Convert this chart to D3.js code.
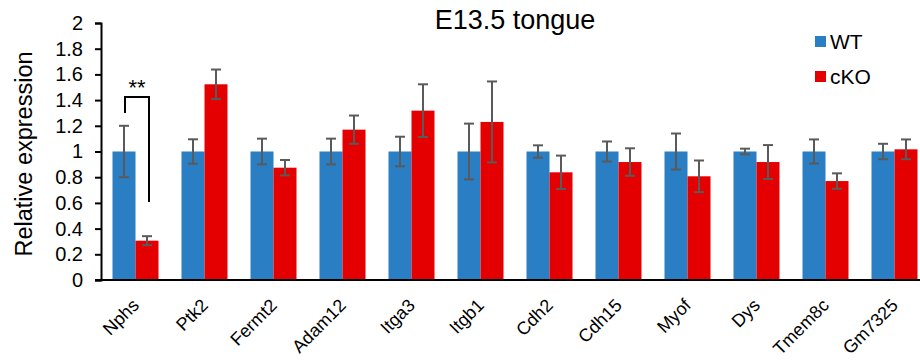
<!DOCTYPE html>
<html>
<head>
<meta charset="utf-8">
<script src="https://cdn.jsdelivr.net/npm/d3@7"></script>
<style>
  body { margin: 0; background: #fff; }
  svg { display: block; font-family: Arial, "Liberation Sans", sans-serif; }
</style>
</head>
<body>
<svg id="chart" width="920" height="362"></svg>
<script>
const genes = ["Nphs", "Ptk2", "Fermt2", "Adam12", "Itga3", "Itgb1", "Cdh2", "Cdh15", "Myof", "Dys", "Tmem8c", "Gm7325"];
const series = ["WT", "cKO"];
const wtMean = [1, 1, 1, 1, 1, 1, 1, 1, 1, 1, 1, 1];
const wtErr = [0.2, 0.095, 0.10, 0.10, 0.115, 0.217, 0.048, 0.078, 0.14, 0.022, 0.094, 0.06];
const koMean = [0.306, 1.523, 0.874, 1.17, 1.318, 1.23, 0.838, 0.918, 0.807, 0.918, 0.77, 1.017];
const koErr = [0.035, 0.115, 0.06, 0.11, 0.205, 0.315, 0.13, 0.107, 0.123, 0.132, 0.06, 0.077];
const yTicks = [0, 0.2, 0.4, 0.6, 0.8, 1, 1.2, 1.4, 1.6, 1.8, 2];
// significance bracket: left leg bottom, top, right leg bottom (in data units)
const bracket = { gene: "Nphs", left: 1.30, top: 1.425, right: 0.607, label: "**" };

const colors = { WT: "#2a7ec3", cKO: "#e40000" };

const svg = d3.select("#chart");
const plotLeft = 101, plotBottom = 280, plotTop = 23;

const y = d3.scaleLinear().domain([0, 2]).range([plotBottom, plotTop]);
const x = d3.scaleBand().domain(genes).range([plotLeft, plotLeft + 12 * 69]).paddingInner(1 / 3).paddingOuter(1 / 6);
const xs = d3.scaleBand().domain(series).range([0, x.bandwidth()]);

const rows = [];
genes.forEach((g, i) => {
  rows.push({ gene: g, s: "WT", v: wtMean[i], e: wtErr[i] });
  rows.push({ gene: g, s: "cKO", v: koMean[i], e: koErr[i] });
});

// bars
svg.append("g").selectAll("rect")
  .data(rows).enter().append("rect")
  .attr("x", d => x(d.gene) + xs(d.s))
  .attr("y", d => y(d.v))
  .attr("width", xs.bandwidth())
  .attr("height", d => y(0) - y(d.v))
  .attr("fill", d => colors[d.s]);

// error bars
const eb = svg.append("g").attr("stroke", "#5a5a5a").attr("stroke-width", 2).attr("fill", "none");
rows.forEach(d => {
  const cx = x(d.gene) + xs(d.s) + xs.bandwidth() / 2;
  eb.append("line").attr("x1", cx).attr("x2", cx).attr("y1", y(d.v - d.e)).attr("y2", y(d.v + d.e));
  [d.v - d.e, d.v + d.e].forEach(v => {
    eb.append("line").attr("x1", cx - 5).attr("x2", cx + 5).attr("y1", y(v)).attr("y2", y(v));
  });
});

// y axis
const yAxis = svg.append("g")
  .attr("transform", `translate(${plotLeft},0)`)
  .call(d3.axisLeft(y).tickValues(yTicks).tickSize(6).tickPadding(12).tickFormat(d3.format("~g")));
yAxis.select(".domain").attr("stroke", "#000").attr("stroke-width", 2);
yAxis.selectAll(".tick line").attr("stroke", "#000").attr("stroke-width", 2);
yAxis.selectAll(".tick text").attr("font-size", 20).attr("fill", "#000").attr("font-family", "Arial, 'Liberation Sans', sans-serif");

// x axis line
svg.append("line")
  .attr("x1", plotLeft - 6).attr("x2", 920)
  .attr("y1", y(0)).attr("y2", y(0))
  .attr("stroke", "#000").attr("stroke-width", 2);

// x labels
svg.append("g").selectAll("text")
  .data(genes).enter().append("text")
  .attr("transform", d => `translate(${x(d) + x.bandwidth() / 2 + 4.5},${plotBottom + 26.5}) rotate(-45)`)
  .attr("text-anchor", "end")
  .attr("font-size", 18)
  .attr("fill", "#000")
  .text(d => d);

// y label
svg.append("text")
  .attr("transform", `translate(32,154) rotate(-90)`)
  .attr("text-anchor", "middle")
  .attr("font-size", 23.5)
  .attr("fill", "#000")
  .text("Relative expression");

// title
svg.append("text")
  .attr("x", 515).attr("y", 29)
  .attr("text-anchor", "middle")
  .attr("font-size", 27)
  .attr("fill", "#000")
  .text("E13.5 tongue");

// legend
const lg = svg.append("g").selectAll("g")
  .data(series).enter().append("g")
  .attr("transform", (d, i) => `translate(815,${36 + i * 35})`);
lg.append("rect").attr("width", 11).attr("height", 11).attr("fill", d => colors[d]);
lg.append("text").attr("x", 15).attr("y", 13).attr("font-size", 21).attr("fill", "#000").text(d => d);

// significance bracket
const bx1 = x(bracket.gene) + xs("WT") + xs.bandwidth() / 2 + 1;
const bx2 = x(bracket.gene) + xs("cKO") + xs.bandwidth() / 2 + 2;
svg.append("path")
  .attr("d", `M${bx1},${y(bracket.left)} V${y(bracket.top)} H${bx2} V${y(bracket.right)}`)
  .attr("fill", "none").attr("stroke", "#000").attr("stroke-width", 2);
svg.append("text")
  .attr("x", (bx1 + bx2) / 2).attr("y", y(bracket.top) - 2)
  .attr("text-anchor", "middle")
  .attr("font-size", 22)
  .attr("fill", "#000")
  .text(bracket.label);
</script>
</body>
</html>
